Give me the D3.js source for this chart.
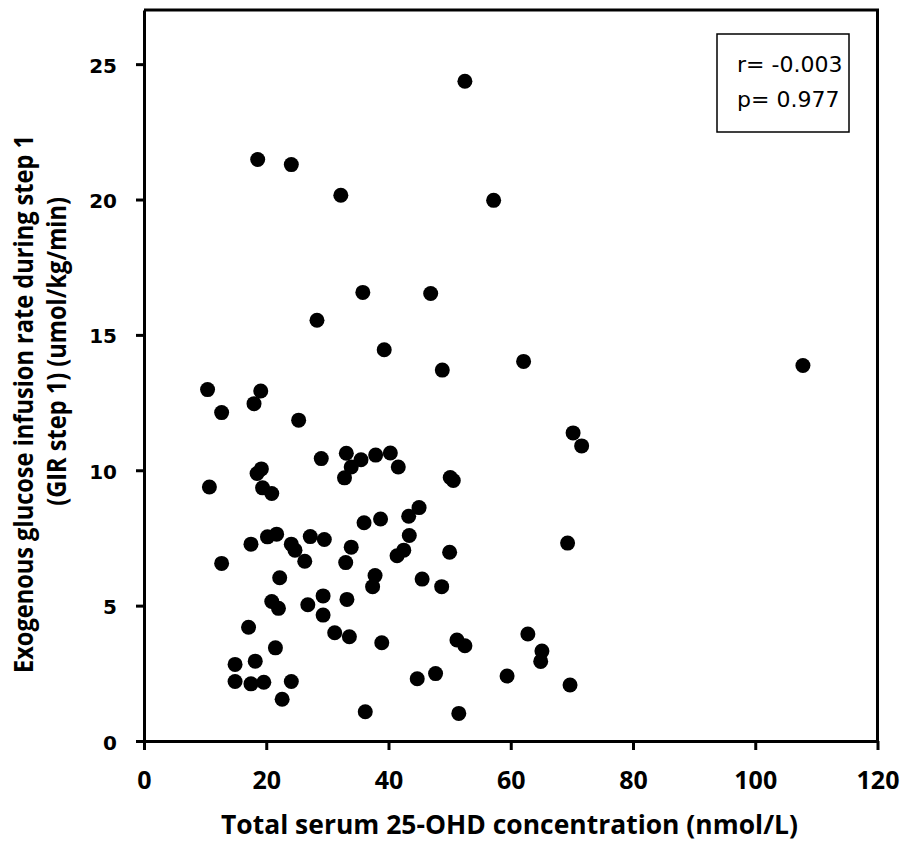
<!DOCTYPE html>
<html>
<head>
<meta charset="utf-8">
<script src="https://cdn.jsdelivr.net/npm/d3@7"></script>
<style>
  body { margin: 0; background: #fff; }
</style>
</head>
<body>
<script>
// serum 25-OHD (nmol/L) vs GIR step 1 (umol/kg/min)
const ohd = [
  52.5, 18.6, 24.1, 32.2, 57.2, 35.8, 46.9, 28.3, 39.3, 48.8, 62.1, 107.8,
  10.4, 19.1, 18.0, 12.7, 25.3, 70.2, 71.6, 29.0, 33.1, 35.5, 33.9, 37.9,
  40.3, 41.6, 32.8, 50.1, 50.6, 10.7, 19.2, 18.5, 19.4, 20.9, 45.0, 43.3,
  38.7, 36.0, 43.4, 20.2, 21.7, 17.5, 27.2, 29.5, 24.1, 24.7, 33.9, 42.5,
  41.4, 50.0, 69.3, 12.7, 26.3, 33.0, 22.2, 37.8, 37.4, 45.5, 48.7, 29.3,
  33.2, 20.9, 22.0, 26.8, 29.3, 17.1, 31.2, 33.6, 38.9, 21.5, 51.2, 52.5,
  62.8, 65.1, 64.9, 14.9, 18.2, 14.9, 17.5, 19.6, 24.1, 22.6, 44.7, 47.7,
  59.4, 69.7, 36.2, 51.5
];
const gir = [
  24.37, 21.48, 21.29, 20.16, 19.97, 16.57, 16.53, 15.54, 14.45, 13.70, 14.02, 13.87,
  12.98, 12.93, 12.46, 12.13, 11.85, 11.38, 10.90, 10.43, 10.63, 10.39, 10.12, 10.56,
  10.64, 10.12, 9.72, 9.73, 9.62, 9.38, 10.05, 9.88, 9.35, 9.14, 8.62, 8.30,
  8.20, 8.06, 7.59, 7.54, 7.64, 7.27, 7.55, 7.44, 7.27, 7.05, 7.16, 7.05,
  6.84, 6.97, 7.31, 6.56, 6.64, 6.59, 6.03, 6.11, 5.70, 5.98, 5.70, 5.36,
  5.23, 5.15, 4.90, 5.03, 4.65, 4.20, 4.00, 3.85, 3.63, 3.44, 3.73, 3.52,
  3.95, 3.32, 2.94, 2.83, 2.95, 2.20, 2.11, 2.17, 2.20, 1.54, 2.30, 2.49,
  2.40, 2.07, 1.08, 1.02
];
const xTicks = [0, 20, 40, 60, 80, 100, 120];
const yTicks = [0, 5, 10, 15, 20, 25];
const statLines = ["r= -0.003", "p= 0.977"];

const width = 905, height = 845;
const mLeft = 144, mRight = 877.5, mTop = 10, mBottom = 741;

const x = d3.scaleLinear().domain([0, 120]).range([mLeft, mRight]);
const y = d3.scaleLinear().domain([0, 27]).range([mBottom, mTop]);

const svg = d3.select("body").append("svg")
    .attr("width", width)
    .attr("height", height)
    .attr("viewBox", [0, 0, width, height]);

// top + right frame lines
svg.append("path")
    .attr("d", `M${mLeft},${mTop}H${mRight}V${mBottom}`)
    .attr("fill", "none")
    .attr("stroke", "#000")
    .attr("stroke-width", 3);

const ax = svg.append("g")
    .attr("transform", `translate(0,${mBottom})`)
    .call(d3.axisBottom(x).tickValues(xTicks).tickSize(9).tickSizeOuter(0));
ax.select(".domain").attr("stroke-width", 3);
ax.selectAll(".tick line").attr("stroke-width", 3);
ax.selectAll(".tick text")
    .attr("y", 48).attr("dy", null)
    .attr("font-family", "'Open Sans'")
    .attr("font-weight", "bold")
    .attr("font-size", 25)
    .attr("fill", "#000");

const ay = svg.append("g")
    .attr("transform", `translate(${mLeft},0)`)
    .call(d3.axisLeft(y).tickValues(yTicks).tickSize(8).tickSizeOuter(0));
ay.select(".domain").attr("stroke-width", 3);
ay.selectAll(".tick line").attr("stroke-width", 3);
ay.selectAll(".tick text")
    .attr("x", -27).attr("dy", null).attr("y", 8)
    .attr("font-family", "'DejaVu Sans'")
    .attr("font-weight", "bold")
    .attr("font-size", 20)
    .attr("fill", "#000");

// points
svg.append("g")
    .selectAll("circle")
    .data(ohd)
    .enter()
    .append("circle")
    .attr("cx", function(d, i) { return x(d); })
    .attr("cy", function(d, i) { return y(gir[i]); })
    .attr("r", 7.5)
    .attr("fill", "#000");

// x title
svg.append("text")
    .attr("x", 221).attr("y", 834)
    .attr("font-family", "'Open Sans'")
    .attr("font-weight", "bold")
    .attr("font-size", 27)
    .attr("textLength", 577)
    .attr("lengthAdjust", "spacingAndGlyphs")
    .text("Total serum 25-OHD concentration (nmol/L)");

// y title, two lines
const t1 = svg.append("text")
    .attr("transform", "translate(33,673) rotate(-90)")
    .attr("text-anchor", "start")
    .attr("font-family", "'Open Sans'")
    .attr("font-weight", "bold")
    .attr("font-size", 27)
    .text("Exogenous glucose infusion rate during step 1");
const t2 = svg.append("text")
    .attr("transform", "translate(66,197) rotate(-90)")
    .attr("text-anchor", "end")
    .attr("font-family", "'Open Sans'")
    .attr("font-weight", "bold")
    .attr("font-size", 27)
    .text("(GIR step 1) (umol/kg/min)");
const k = 538 / t1.node().getComputedTextLength();
t1.attr("textLength", 538).attr("lengthAdjust", "spacingAndGlyphs");
t2.attr("textLength", t2.node().getComputedTextLength() * k).attr("lengthAdjust", "spacingAndGlyphs");

// stats box
svg.append("rect")
    .attr("x", 717).attr("y", 34)
    .attr("width", 132).attr("height", 98)
    .attr("fill", "#fff")
    .attr("stroke", "#000")
    .attr("stroke-width", 1.5);
svg.append("g")
    .selectAll("text")
    .data(statLines)
    .enter()
    .append("text")
    .attr("x", 737)
    .attr("y", function(d, i) { return 71.5 + i * 35.5; })
    .attr("font-family", "'DejaVu Sans'")
    .attr("font-size", 22)
    .text(function(d) { return d; });
</script>
</body>
</html>
